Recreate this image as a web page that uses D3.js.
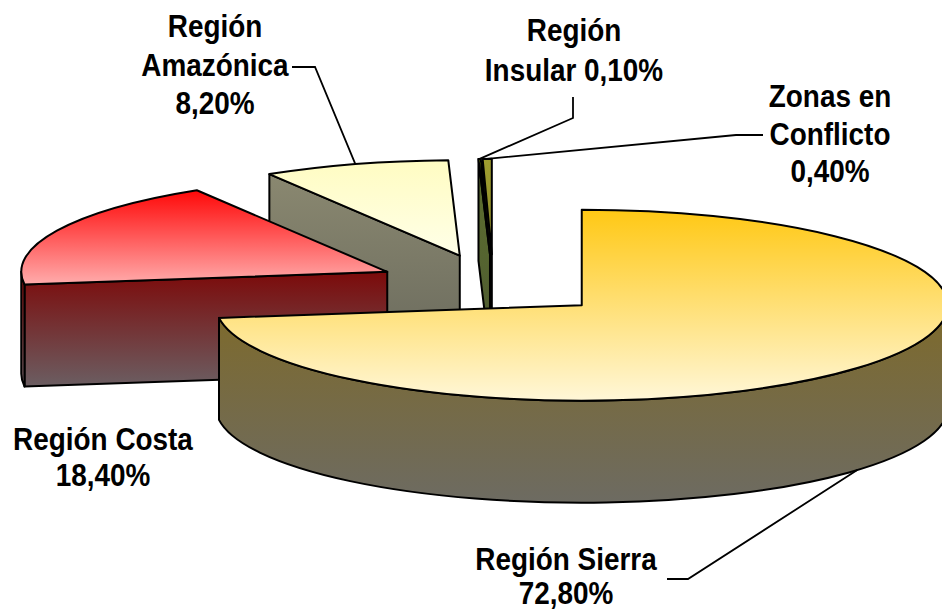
<!DOCTYPE html>
<html><head><meta charset="utf-8">
<script src="https://cdn.jsdelivr.net/npm/d3@7"></script>
<style>
body{margin:0;background:#fff}
svg{display:block}
text{font-family:"Liberation Sans",Arial,sans-serif;font-weight:bold;fill:#000}
</style>
</head><body>
<svg id="chart" width="942" height="613"></svg>
<script>
// ---------- data ----------
const categories = ["Región Sierra","Región Costa","Región Amazónica","Región Insular","Zonas en Conflicto"];
const values = [72.8, 18.4, 8.2, 0.1, 0.4];
const labelLines = [
  ["Región Sierra","{v}"],
  ["Región Costa","{v}"],
  ["Región","Amazónica","{v}"],
  ["Región","Insular {v}"],
  ["Zonas en","Conflicto","{v}"]
];

// ---------- layout & style ----------
const geo = {cx:493.3, cy:285, rx:366, ry:95.5, depth:102, explode:0.321};
const topColors = [["#FFC814","#FFF7D8"],["#FF0808","#FFACAC"],["#FFFCC2","#FFFFE8"],["#B6D61E","#A6C62A"],["#A09E30","#8A882A"]];
const sideColors = [["#7E6A2A","#6D6B62"],["#7C0A0A","#6B5E62"],["#8A8870","#6A6A5D"],["#5E702E","#4C5832"],["#5E702E","#4C5832"]];
const labelLayout = [
  {x:566, y:570, dy:34,   anchor:"bottom", elbow:[688,579], end:[667,579]},
  {x:103, y:450, dy:36,   anchor:null},
  {x:215, y:37,  dy:38.5, anchor:"top", elbow:[315,67], end:[292,67]},
  {x:574, y:41,  dy:40,   anchor:"top", elbow:[573,118], end:[573,97]},
  {x:830, y:107, dy:37.5, anchor:"top", elbow:[736,135], end:[763,135]}
];
const fontSize = 31;
const textScaleX = 0.9;

// ---------- drawing ----------
const svg = d3.select("#chart");
const defs = svg.append("defs");
const fmt = v => d3.format(".2f")(v).replace(".", ",") + "%";

const {cx, cy, rx, ry, depth, explode} = geo;
const pie = d3.pie().sort(null).startAngle(0).endAngle(2*Math.PI);
const arcs = pie(values).map((a, i) => {
  const mid = (a.startAngle + a.endAngle) / 2;
  return {...a, i, mid,
    ax: cx + explode*rx*Math.sin(mid),
    ay: cy - explode*ry*Math.cos(mid)};
});

function P(a, th, dz = 0) { return [a.ax + rx*Math.sin(th), a.ay - ry*Math.cos(th) + dz]; }
const pt = p => p[0].toFixed(2) + "," + p[1].toFixed(2);

function grad(id, c) {
  const g = defs.append("linearGradient").attr("id", id)
    .attr("x1", 0).attr("y1", 0).attr("x2", 0).attr("y2", 1);
  g.append("stop").attr("offset", "0%").attr("stop-color", c[0]);
  g.append("stop").attr("offset", "100%").attr("stop-color", c[1]);
}
arcs.forEach(a => { grad("top" + a.i, topColors[a.i]); grad("side" + a.i, sideColors[a.i]); });

const order = arcs.slice().sort((a, b) => (-Math.cos(a.mid)) - (-Math.cos(b.mid)));
const gPie = svg.append("g");
const strokeStyle = sel => sel.attr("stroke", "#000").attr("stroke-width", 2).attr("stroke-linejoin", "round");

order.forEach(a => {
  const g = gPie.append("g");
  const s = a.startAngle, e = a.endAngle;
  const apex = [a.ax, a.ay], apexB = [a.ax, a.ay + depth];
  const faces = [];
  if (Math.sin(s) < -1e-9) faces.push(s);
  if (Math.sin(e) > 1e-9) faces.push(e);
  faces.forEach(th => {
    const p = P(a, th), pb = P(a, th, depth);
    g.append("path")
      .attr("d", `M${pt(apex)}L${pt(p)}L${pt(pb)}L${pt(apexB)}Z`)
      .attr("fill", `url(#side${a.i})`).call(strokeStyle);
  });
  const b1 = Math.max(s, Math.PI/2), b2 = Math.min(e, 3*Math.PI/2);
  if (b2 > b1) {
    const lg = (b2 - b1) > Math.PI ? 1 : 0;
    g.append("path")
      .attr("d", `M${pt(P(a,b1))}A${rx},${ry} 0 ${lg} 1 ${pt(P(a,b2))}L${pt(P(a,b2,depth))}A${rx},${ry} 0 ${lg} 0 ${pt(P(a,b1,depth))}Z`)
      .attr("fill", `url(#side${a.i})`).call(strokeStyle);
  }
  const lg = (e - s) > Math.PI ? 1 : 0;
  g.append("path")
    .attr("d", `M${pt(apex)}L${pt(P(a,s))}A${rx},${ry} 0 ${lg} 1 ${pt(P(a,e))}Z`)
    .attr("fill", `url(#top${a.i})`).call(strokeStyle);
});

// leader lines
const gLead = svg.append("g");
arcs.forEach(a => {
  const L = labelLayout[a.i];
  if (!L.anchor) return;
  const p = L.anchor === "bottom" ? P(a, a.mid, depth) : P(a, a.mid);
  gLead.append("path")
    .attr("d", `M${pt(p)}L${pt(L.elbow)}L${pt(L.end)}`)
    .attr("fill", "none").attr("stroke", "#000").attr("stroke-width", 1.8);
});

// labels
const gLab = svg.append("g");
arcs.forEach(a => {
  const L = labelLayout[a.i];
  labelLines[a.i].forEach((line, k) => {
    gLab.append("text")
      .attr("transform", `translate(${L.x},${L.y + k*L.dy}) scale(${textScaleX},1)`)
      .attr("text-anchor", "middle")
      .attr("font-size", fontSize)
      .text(line.replace("{v}", fmt(values[a.i])));
  });
});
</script>
</body></html>
